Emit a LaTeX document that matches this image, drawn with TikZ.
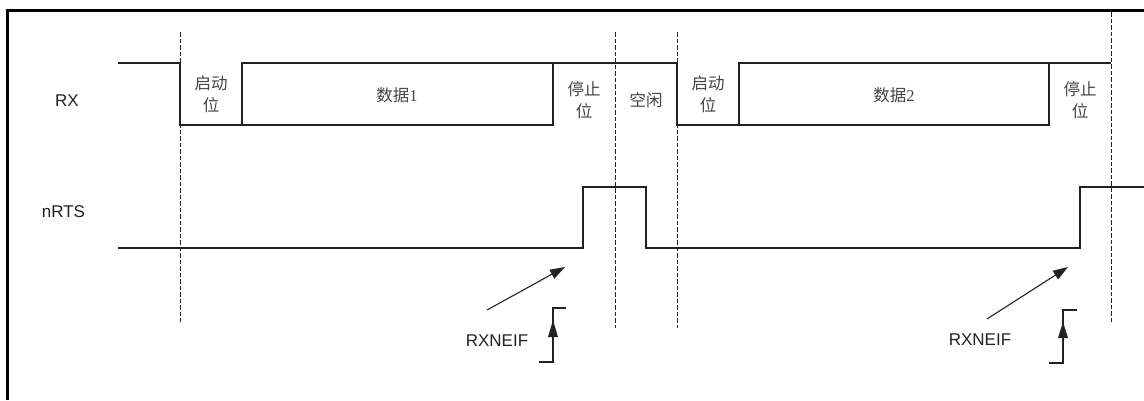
\documentclass[tikz,border=0pt]{standalone}
\usepackage{fontspec}
\setmainfont{Liberation Sans}
\newfontfamily\cjk{Noto Sans CJK SC}
\newfontfamily\sernum{Liberation Serif}
\usetikzlibrary{arrows.meta}
\definecolor{ink}{HTML}{222222}
\definecolor{txt}{HTML}{444444}
\tikzset{
  sig/.style={draw=ink, line width=1.4pt, line join=miter},
  guide/.style={draw=ink, line width=0.9pt, dash pattern=on 4.5pt off 2pt},
  frame/.style={draw=black, line width=3pt},
  cjklbl/.style={text=txt, font=\cjk\fontsize{16.5}{21.7}\selectfont, align=center, inner sep=0pt},
  latlbl/.style={text=ink, font=\fontsize{17}{20}\selectfont, inner sep=0pt},
  ptr/.style={draw=ink, line width=1.1pt, -{Triangle[length=15pt,width=10pt]}},
  edge/.style={draw=ink, line width=1.1pt},
  head/.style={fill=ink, draw=none}
}
\begin{document}
\begin{tikzpicture}[x=1pt,y=-1pt]
\useasboundingbox (0,0) rectangle (1144,400);
% frame (top and left visible)
\draw[frame] (7,400) -- (7,10) -- (1144,10);
% guides
\draw[guide] (180,32) -- (180,322);
\draw[guide] (615,32) -- (615,328);
\draw[guide] (677,32) -- (677,328);
\draw[guide] (1111,12) -- (1111,322);
% labels
\node[latlbl] (rx) at (67,101) {RX};
\node[latlbl] (nrts) at (63.5,212) {nRTS};
% RX signal
\draw[sig] (118,63) -- (180,63) -- (180,125) -- (553,125) -- (553,63);
\draw[sig] (242,125) -- (242,63) -- (677,63) -- (677,125) -- (1049,125) -- (1049,63);
\draw[sig] (739,125) -- (739,63) -- (1111,63);
% RX texts
\node[cjklbl] (start1) at (211,94) {启动\\位};
\node[cjklbl] (data1) at (397,95) {数据{\sernum 1}};
\node[cjklbl] (stop1) at (584,100) {停止\\位};
\node[cjklbl] (idle) at (646,100) {空闲};
\node[cjklbl] (start2) at (708,94) {启动\\位};
\node[cjklbl] (data2) at (894,95) {数据{\sernum 2}};
\node[cjklbl] (stop2) at (1080,100) {停止\\位};
% nRTS signal
\draw[sig] (118,248) -- (583,248) -- (583,187) -- (646,187) -- (646,248) -- (1080,248) -- (1080,187) -- (1144,187);
% RXNEIF 1
\node[latlbl] (flag1) at (497,341) {RXNEIF};
\coordinate (a1s) at (487,310);
\coordinate (a1e) at (565,267);
\draw[ptr] (a1s) -- (a1e);
\coordinate (s1a) at (539,362);
\coordinate (s1b) at (553,362);
\coordinate (s1c) at (553,308);
\coordinate (s1d) at (566,308);
\draw[edge] (s1a) -- (s1b) -- (s1c) -- (s1d);
\fill[head] (553,320) -- (548,337) -- (558,337) -- cycle;
% RXNEIF 2
\node[latlbl] (flag2) at (980,340) {RXNEIF};
\coordinate (a2s) at (987,319);
\coordinate (a2e) at (1068,267);
\draw[ptr] (a2s) -- (a2e);
\coordinate (s2a) at (1049,363);
\coordinate (s2b) at (1063,363);
\coordinate (s2c) at (1063,310);
\coordinate (s2d) at (1077,310);
\draw[edge] (s2a) -- (s2b) -- (s2c) -- (s2d);
\fill[head] (1063,322) -- (1058,338) -- (1068,338) -- cycle;
\end{tikzpicture}
\end{document}
